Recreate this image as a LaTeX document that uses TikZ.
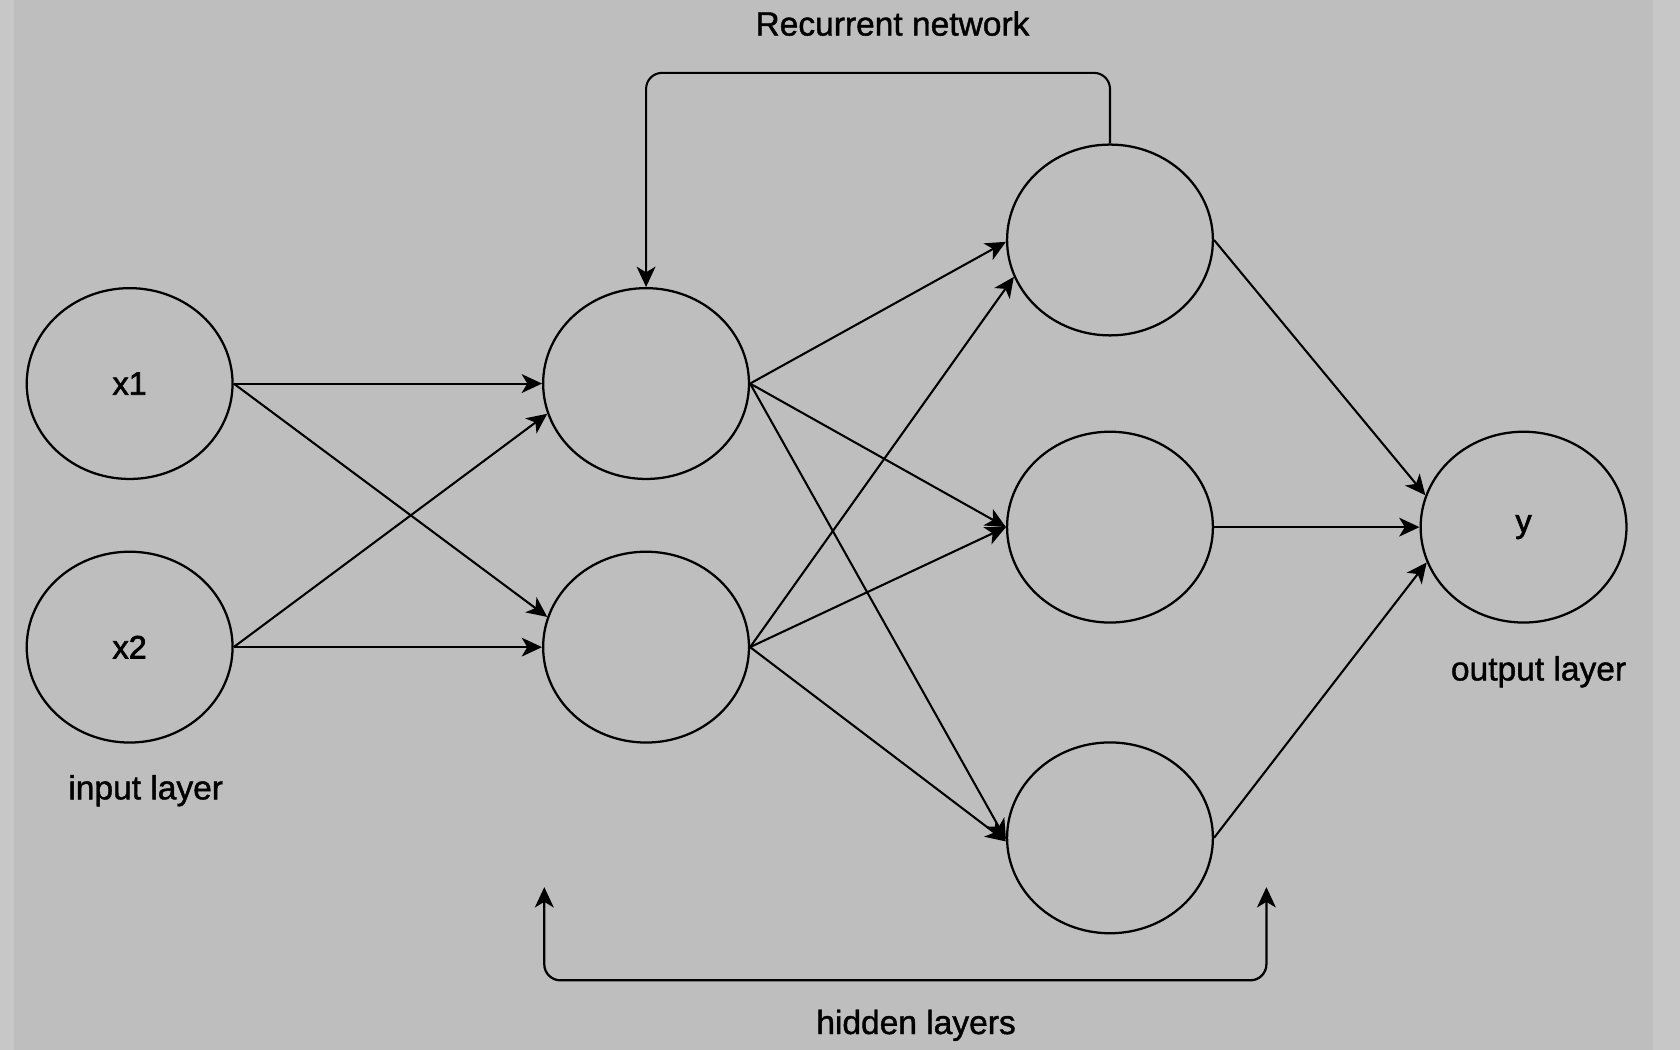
\documentclass[tikz,border=0pt]{standalone}
\usepackage{fontspec}
\setmainfont{Liberation Sans}
\newfontfamily\lblfont{Liberation Sans}[FakeBold=1.2]
\newfontfamily\nodefont{Liberation Sans}[FakeBold=2]
\usetikzlibrary{shapes.geometric,arrows.meta}
\definecolor{bggray}{HTML}{BEBEBE}
\definecolor{edgegray}{HTML}{C7C7C7}
\tikzset{
  tip/.tip={Stealth[length=5.4pt, width=5pt, inset=1.5pt]},
  neuron/.style={draw, line width=0.6pt, ellipse, minimum width=1.92cm, minimum height=1.78cm, inner sep=0pt, font=\nodefont\fontsize{8.6}{10.3}\selectfont},
  label/.style={inner sep=0pt, font=\lblfont\fontsize{8.9}{10.7}\selectfont},
  conn/.style={line width=0.55pt, -tip},
  loopconn/.style={line width=0.6pt, rounded corners=0.15cm},
}
\begin{document}
\begin{tikzpicture}[x=0.01cm, y=-0.01cm]
  \fill[bggray] (0,0) rectangle (1568,980);
  \fill[edgegray] (0,0) rectangle (13,980);
  \fill[edgegray] (1543,0) rectangle (1568,980);
  \useasboundingbox (0,0) rectangle (1568,980);

  % nodes
  \node[neuron] (x1) at (121,358) {x1};
  \node[neuron] (x2) at (121,604) {x2};
  \node[neuron] (h1a) at (603,358) {};
  \node[neuron] (h1b) at (603,604) {};
  \node[neuron] (h2a) at (1036,224) {};
  \node[neuron] (h2b) at (1036,492) {};
  \node[neuron] (h2c) at (1036,782) {};
  \node[neuron] (y) at (1422,492) {y};

  % labels
  \node[label] (lrec) at (833,22) {Recurrent network};
  \node[label] (lin) at (136,738) {input layer};
  \node[label] (lout) at (1436,627) {output layer};
  \node[label] (lhid) at (855,957) {hidden layers};

  % input -> hidden 1
  \draw[conn] (x1.east) -- (h1a.west);
  \draw[conn] (x1.east) -- (h1b.163);
  \draw[conn] (x2.east) -- (h1a.197);
  \draw[conn] (x2.east) -- (h1b.west);

  % hidden 1 -> hidden 2
  \draw[conn] (h1a.east) -- (h2a.181);
  \draw[conn] (h1a.east) -- (h2b.west);
  \draw[conn] (h1a.east) -- (h2c.181);
  \draw[conn] (h1b.east) -- (h2a.201);
  \draw[conn] (h1b.east) -- (h2b.west);
  \draw[conn] (h1b.east) -- (h2c.182);

  % hidden 2 -> output
  \draw[conn] (h2a.east) -- (y.162);
  \draw[conn] (h2b.east) -- (y.west);
  \draw[conn] (h2c.east) -- (y.200);

  % recurrent loop
  \coordinate (rtop) at (820,68);
  \draw[loopconn, conn] (h2a.north) |- (rtop) -| (h1a.north);

  % hidden layers bracket
  \coordinate (hbl) at (508,828);
  \coordinate (hbr) at (1182,828);
  \coordinate (hbm) at (845,915);
  \draw[loopconn, tip-tip] (hbl) |- (hbm) -| (hbr);
\end{tikzpicture}
\end{document}
